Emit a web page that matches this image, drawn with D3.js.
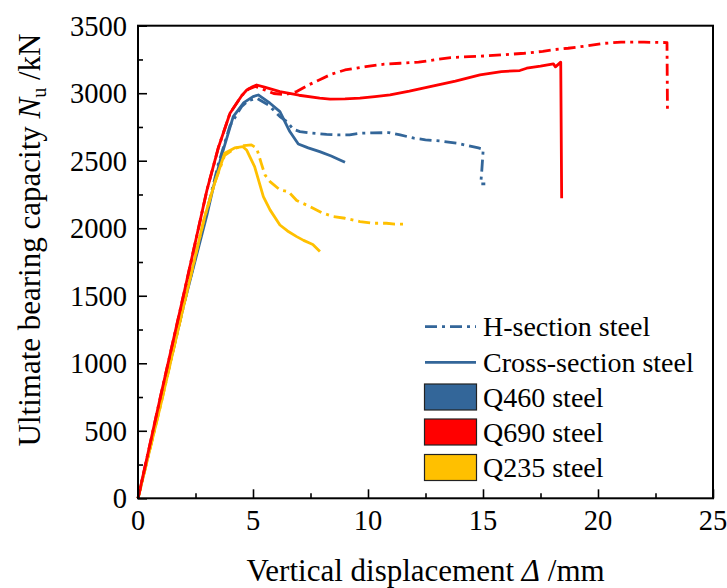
<!DOCTYPE html>
<html><head><meta charset="utf-8">
<script src="https://cdn.jsdelivr.net/npm/d3@7"></script>
<style>body{margin:0;background:#fff}svg{display:block}</style>
</head><body>
<svg id="c" width="727" height="588" font-family="'Liberation Serif', 'Times New Roman', Times, serif"></svg>
<script>
// ---- data ----
const xTicks = [0,5,10,15,20,25];
const yTicks = [0,500,1000,1500,2000,2500,3000,3500];

const q690H_x = [0,1,2,3,3.5,4,4.5,4.8,5.1,5.5,5.9,6.4,6.9,7.4,7.9,8.4,9.0,9.9,10.7,11.4,12.2,12.9,13.6,14.4,15.1,15.8,16.8,17.6,18.0,18.7,19.5,20.3,21.0,22.0,22.6,23.0,23.02];
const q690H_y = [0,770,1520,2284,2600,2852,2980,3030,3050,3025,2998,2990,3012,3060,3100,3140,3172,3197,3215,3222,3230,3247,3264,3271,3276,3284,3296,3310,3321,3333,3350,3370,3378,3378,3376,3375,2876];

const q690C_x = [0,1,2,3,3.5,4,4.5,4.73,5.0,5.16,5.5,6.17,7.0,7.9,8.35,9.0,9.65,10.3,10.96,11.8,12.7,13.8,14.87,15.8,16.6,16.9,17.5,18.06,18.15,18.38,18.42];
const q690C_y = [0,770,1520,2284,2600,2852,2980,3024,3050,3061,3045,3012,2985,2963,2956,2958,2963,2975,2988,3015,3049,3090,3136,3160,3168,3185,3200,3217,3195,3230,2222];

const q460H_x = [0,1,2,3,3.5,4,4.5,4.8,5.16,5.67,6.17,6.47,6.75,7.04,7.5,8.2,8.78,9.2,9.7,10.2,10.9,11.4,12.0,12.5,13.2,13.85,14.35,14.8,15.01,14.94,14.9,15.1];
const q460H_y = [0,720,1440,2130,2480,2760,2900,2945,2963,2913,2827,2790,2733,2716,2705,2695,2691,2692,2704,2706,2708,2691,2667,2655,2645,2630,2612,2595,2585,2407,2328,2328];

const q460C_x = [0,1,2,3,3.27,3.6,4.14,4.6,5.0,5.23,5.74,6.17,6.6,6.97,7.4,7.9,8.4,8.78,9.0];
const q460C_y = [0,720,1440,2100,2300,2520,2827,2930,2975,2987,2926,2864,2716,2624,2595,2567,2535,2506,2489];

const q235H_x = [0,1,1.74,2.5,2.9,3.33,3.77,4.2,4.6,4.93,5.16,5.36,5.52,5.74,6.17,6.54,6.9,7.48,8.0,8.49,9.0,9.65,10.2,10.8,11.17,11.53];
const q235H_y = [0,700,1247,1800,2086,2333,2540,2590,2612,2617,2593,2480,2395,2345,2284,2271,2205,2160,2115,2086,2074,2049,2037,2037,2030,2030];

const q235C_x = [0,1,1.74,2.5,2.9,3.33,3.77,4.2,4.56,4.72,4.86,5.07,5.45,5.74,6.17,6.5,6.9,7.2,7.48,7.6,7.91];
const q235C_y = [0,700,1247,1800,2086,2333,2555,2595,2604,2580,2530,2456,2234,2136,2024,1980,1938,1910,1889,1880,1827];

const colors = {q460:"#336699", q690:"#FF0000", q235:"#FFC000"};
const legendItems = ["H-section steel","Cross-section steel","Q460 steel","Q690 steel","Q235 steel"];

// ---- chart ----
const svg = d3.select("#c");
const L=138, R=713, T=25.7, B=498.3;
const x = d3.scaleLinear().domain([0,25]).range([L,R]);
const y = d3.scaleLinear().domain([0,3500]).range([B,T]);

const series = [
  {xs:q460H_x, ys:q460H_y, c:colors.q460, dash:true},
  {xs:q460C_x, ys:q460C_y, c:colors.q460, dash:false},
  {xs:q235H_x, ys:q235H_y, c:colors.q235, dash:true},
  {xs:q235C_x, ys:q235C_y, c:colors.q235, dash:false},
  {xs:q690H_x, ys:q690H_y, c:colors.q690, dash:true},
  {xs:q690C_x, ys:q690C_y, c:colors.q690, dash:false}
];
const line = d3.line().x(d=>x(d[0])).y(d=>y(d[1]));
const DASH = "12,5,3,5";
series.forEach(s=>{
  svg.append("path").attr("d", line(d3.zip(s.xs,s.ys)))
    .attr("fill","none").attr("stroke",s.c).attr("stroke-width",2.8)
    .attr("stroke-linejoin","round")
    .attr("stroke-dasharray", s.dash?DASH:null);
});

// axes (ticks inward)
const gx = svg.append("g").attr("transform",`translate(0,${B})`)
  .call(d3.axisBottom(x).tickValues(d3.range(0,25.01,2.5)).tickSizeInner(-5).tickSizeOuter(0).tickFormat(""));
gx.selectAll(".tick line").filter(d=>d%5===0).attr("y2",-9);
const gy = svg.append("g").attr("transform",`translate(${L},0)`)
  .call(d3.axisLeft(y).tickValues(d3.range(0,3501,250)).tickSizeInner(-5).tickSizeOuter(0).tickFormat(""));
gy.selectAll(".tick line").filter(d=>d%500===0).attr("x2",9);
svg.selectAll(".domain").remove();
svg.selectAll(".tick line").attr("stroke","#000").attr("stroke-width",1.6);

svg.append("rect").attr("x",L).attr("y",T).attr("width",R-L).attr("height",B-T)
  .attr("fill","none").attr("stroke","#000").attr("stroke-width",2);

const FF = "'Liberation Serif', 'Times New Roman', Times, serif";
// tick labels
svg.append("g").selectAll("text").data(xTicks).join("text")
  .attr("font-family",FF)
  .attr("x",d=>x(d)).attr("y",530).attr("text-anchor","middle")
  .attr("font-size",28.5).text(d=>d);
svg.append("g").selectAll("text").data(yTicks).join("text")
  .attr("font-family",FF)
  .attr("x",127).attr("y",d=>y(d)+10).attr("text-anchor","end")
  .attr("font-size",28.5).text(d=>d);

// axis titles
const xt = svg.append("text").attr("font-family",FF).attr("x",(L+R)/2).attr("y",581).attr("text-anchor","middle").attr("font-size",31);
xt.append("tspan").text("Vertical displacement ");
xt.append("tspan").attr("font-style","italic").text("Δ");
xt.append("tspan").text(" /mm");

const yt = svg.append("text").attr("font-family",FF).attr("transform","translate(40,240) rotate(-90)").attr("text-anchor","middle").attr("font-size",31);
yt.append("tspan").text("Ultimate bearing capacity ");
yt.append("tspan").attr("font-style","italic").text("N");
yt.append("tspan").attr("font-size",20).attr("dy",6).text("u");
yt.append("tspan").attr("dy",-6).text(" /kN");

// legend
const lg = svg.append("g");
const rowY = [326.7, 362.3, 397, 432, 467.5];
lg.append("line").attr("x1",425).attr("x2",476).attr("y1",rowY[0]).attr("y2",rowY[0])
  .attr("stroke",colors.q460).attr("stroke-width",2.8).attr("stroke-dasharray","12,5,3,5");
lg.append("line").attr("x1",425).attr("x2",476).attr("y1",rowY[1]).attr("y2",rowY[1])
  .attr("stroke",colors.q460).attr("stroke-width",2.8);
[colors.q460,colors.q690,colors.q235].forEach((c,i)=>{
  lg.append("rect").attr("x",424.5).attr("y",rowY[i+2]-13).attr("width",52).attr("height",26)
    .attr("fill",c).attr("stroke","#222").attr("stroke-width",1.2);
});
lg.selectAll("text").data(legendItems).join("text")
  .attr("font-family",FF)
  .attr("x",483).attr("y",(d,i)=>rowY[i]+9.5).attr("font-size",28).text(d=>d);
</script>
</body></html>
